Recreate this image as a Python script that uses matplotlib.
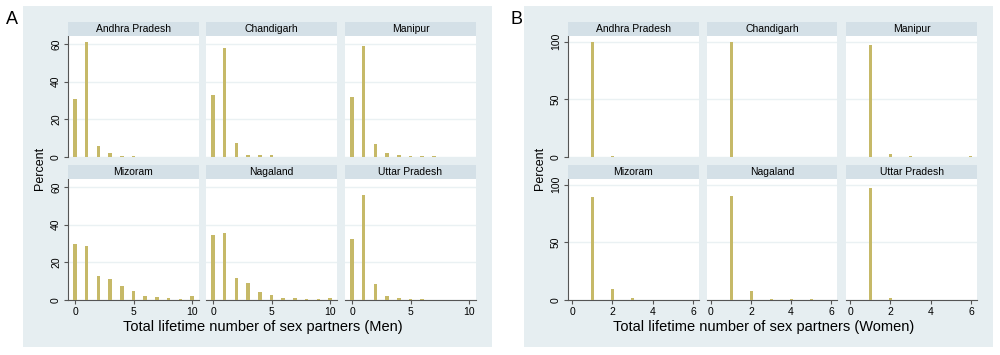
import matplotlib
matplotlib.use("Agg")
import matplotlib.pyplot as plt

plt.rcParams['font.family'] = ['Liberation Sans', 'DejaVu Sans']

states = ["Andhra Pradesh", "Chandigarh", "Manipur", "Mizoram", "Nagaland", "Uttar Pradesh"]

men_x = [0, 1, 2, 3, 4, 5, 6, 7, 8, 9, 10]
men_andhra = [31, 61, 6, 2, 0.5, 0.5, 0, 0, 0, 0, 0]
men_chandigarh = [33, 58, 7.5, 1, 1, 1, 0, 0, 0, 0, 0]
men_manipur = [32, 59, 7, 2, 0.8, 0.7, 0.5, 0.5, 0, 0, 0]
men_mizoram = [30, 28.5, 12.7, 11.2, 7.3, 4.7, 2.2, 1.4, 0.9, 0.4, 2.3]
men_nagaland = [34.7, 35.4, 11.6, 8.8, 4.2, 2.6, 1.2, 0.8, 0.6, 0.3, 1.3]
men_up = [32.5, 56, 8.3, 2, 0.8, 0.3, 0.3, 0.2, 0.2, 0.1, 0.1]

women_x = [0, 1, 2, 3, 4, 5, 6]
women_andhra = [0, 99.5, 0.5, 0, 0, 0, 0]
women_chandigarh = [0, 100, 0, 0, 0, 0, 0]
women_manipur = [0, 97, 2.5, 0.5, 0, 0, 0.5]
women_mizoram = [0, 89, 9.5, 1.5, 0, 0, 0]
women_nagaland = [0, 90, 7.5, 1.3, 1, 0.5, 0]
women_up = [0, 97.5, 2, 0.3, 0, 0, 0]

men_data = [men_andhra, men_chandigarh, men_manipur, men_mizoram, men_nagaland, men_up]
women_data = [women_andhra, women_chandigarh, women_manipur, women_mizoram, women_nagaland, women_up]

W, H = 1000, 355
fig = plt.figure(figsize=(10, 3.55), dpi=100)

BG = "#e6eef1"
STRIP = "#d4e0e7"
BAR = "#c6b968"
GRID = "#eaf1f3"
AXC = "#555555"

def fx(x):
    return x / W

def fy(y):
    return 1 - y / H

def panel(x0, x1, cols, data, xv, xlim, ylim, yticks, xticks, bw, xlabel, letter, lx, ylab_x, xlab_x):
    bgax = fig.add_axes([fx(x0), fy(347), fx(x1 - x0), 341 / H], zorder=-5)
    bgax.set_facecolor(BG)
    bgax.set_xticks([]); bgax.set_yticks([])
    for s in bgax.spines.values():
        s.set_visible(False)
    fig.text(fx(lx), fy(20), letter, fontsize=13, ha='center', va='center')
    rows = [(36, 157, 22), (179, 300, 165)]
    for r, (ytop, ybot, stop) in enumerate(rows):
        for c, (cx0, cx1) in enumerate(cols):
            i = r * 3 + c
            ax = fig.add_axes([fx(cx0), fy(ybot), fx(cx1 - cx0), (ybot - ytop) / H])
            ax.set_facecolor('white')
            ax.bar(xv, data[i], width=bw, color=BAR, zorder=3)
            ax.set_xlim(*xlim)
            ax.set_ylim(*ylim)
            ax.set_yticks(yticks)
            ax.set_xticks(xticks)
            ax.yaxis.grid(True, color=GRID, linewidth=1.0, zorder=0)
            ax.set_axisbelow(True)
            for s in ax.spines.values():
                s.set_visible(False)
            if c == 0:
                ax.spines['left'].set_visible(True)
                ax.spines['left'].set_color(AXC)
                ax.spines['left'].set_linewidth(0.8)
                ax.tick_params(axis='y', length=3, color=AXC, labelsize=7.5, pad=2)
                for t in ax.get_yticklabels():
                    t.set_rotation(90)
                    t.set_va('center')
            else:
                ax.tick_params(axis='y', length=0, labelleft=False)
            if r == 1:
                ax.spines['bottom'].set_visible(True)
                ax.spines['bottom'].set_color(AXC)
                ax.spines['bottom'].set_linewidth(0.8)
                ax.tick_params(axis='x', length=3, color=AXC, labelsize=7.5, pad=2)
            else:
                ax.tick_params(axis='x', length=0, labelbottom=False)
            sax = fig.add_axes([fx(cx0), fy(ytop), fx(cx1 - cx0), (ytop - stop) / H])
            sax.set_facecolor(STRIP)
            sax.set_xticks([]); sax.set_yticks([])
            for s in sax.spines.values():
                s.set_visible(False)
            sax.text(0.5, 0.5, states[i], ha='center', va='center', fontsize=7.5,
                     transform=sax.transAxes)
    fig.text(fx(ylab_x), fy(168), "Percent", rotation=90, ha='center', va='center', fontsize=9)
    fig.text(fx(xlab_x), fy(327), xlabel, ha='center', va='center', fontsize=10.5)

panel(23, 492, [(68, 199), (206, 337), (345, 476)], men_data, men_x,
      (-0.6, 10.6), (0, 64.3), [0, 20, 40, 60], [0, 5, 10], 0.3,
      "Total lifetime number of sex partners (Men)", "A", 12, 40, 263)
panel(524, 993, [(568, 699), (707, 837), (846, 977)], women_data, women_x,
      (-0.2, 6.3), (0, 105), [0, 50, 100], [0, 2, 4, 6], 0.15,
      "Total lifetime number of sex partners (Women)", "B", 516, 540, 764)

fig.savefig("out.png", dpi=100)
